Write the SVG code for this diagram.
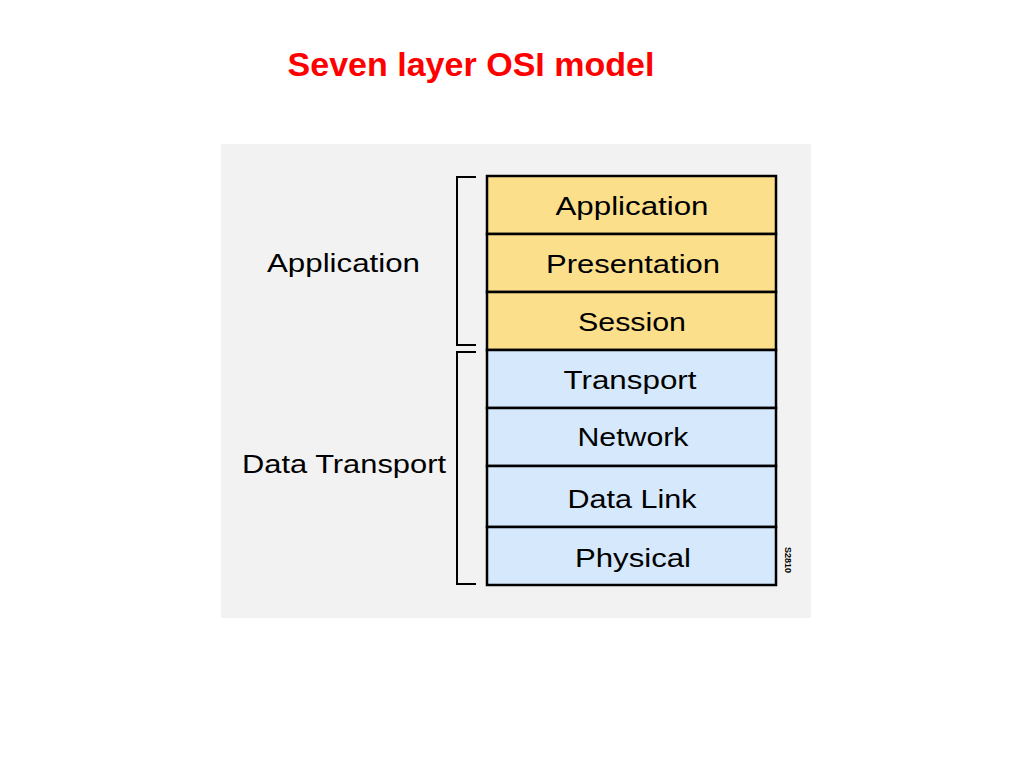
<svg xmlns="http://www.w3.org/2000/svg" width="1024" height="768" viewBox="0 0 1024 768">
<style>
.t{font-family:"Liberation Sans",Arial,sans-serif;font-size:25px;fill:#000;}
.c{text-anchor:middle;}
.y{fill:#fbdf8b;stroke:#000;stroke-width:2.5;}
.b{fill:#d6e8fb;stroke:#000;stroke-width:2.5;}
.br{fill:none;stroke:#000;stroke-width:2;}
</style>
<rect width="1024" height="768" fill="#fff"/>
<text x="471" y="76" text-anchor="middle" font-family="Liberation Sans, Arial, sans-serif" font-size="34" font-weight="bold" fill="#ff0000" textLength="367" lengthAdjust="spacingAndGlyphs">Seven layer OSI model</text>
<rect x="221" y="144" width="590" height="474" fill="#f2f2f2"/>
<g id="connectors">
<path class="br" d="M476,177 H457 V345 H476"/>
<path class="br" d="M476,352 H457 V584 H476"/>
</g>
<g id="group-application"><text class="t" x="267" y="272" textLength="153" lengthAdjust="spacingAndGlyphs">Application</text></g>
<g id="group-transport"><text class="t" x="242" y="473" textLength="204" lengthAdjust="spacingAndGlyphs">Data Transport</text></g>
<g id="layer7"><rect class="y" x="487" y="176" width="289" height="58"/><text class="t c" x="632" y="215" textLength="153" lengthAdjust="spacingAndGlyphs">Application</text></g>
<g id="layer6"><rect class="y" x="487" y="234" width="289" height="58"/><text class="t c" x="633" y="273" textLength="174" lengthAdjust="spacingAndGlyphs">Presentation</text></g>
<g id="layer5"><rect class="y" x="487" y="292" width="289" height="58"/><text class="t c" x="632" y="331" textLength="108" lengthAdjust="spacingAndGlyphs">Session</text></g>
<g id="layer4"><rect class="b" x="487" y="350" width="289" height="58"/><text class="t c" x="630" y="389" textLength="133" lengthAdjust="spacingAndGlyphs">Transport</text></g>
<g id="layer3"><rect class="b" x="487" y="408" width="289" height="58"/><text class="t c" x="633" y="446" textLength="111" lengthAdjust="spacingAndGlyphs">Network</text></g>
<g id="layer2"><rect class="b" x="487" y="466" width="289" height="61"/><text class="t c" x="632" y="508" textLength="129" lengthAdjust="spacingAndGlyphs">Data Link</text></g>
<g id="layer1"><rect class="b" x="487" y="527" width="289" height="58"/><text class="t c" x="633" y="567" textLength="116" lengthAdjust="spacingAndGlyphs">Physical</text></g>
<text x="785" y="560" transform="rotate(90 785 560)" text-anchor="middle" font-family="Liberation Sans, Arial, sans-serif" font-size="9" font-weight="bold" fill="#000">S2810</text>
</svg>
